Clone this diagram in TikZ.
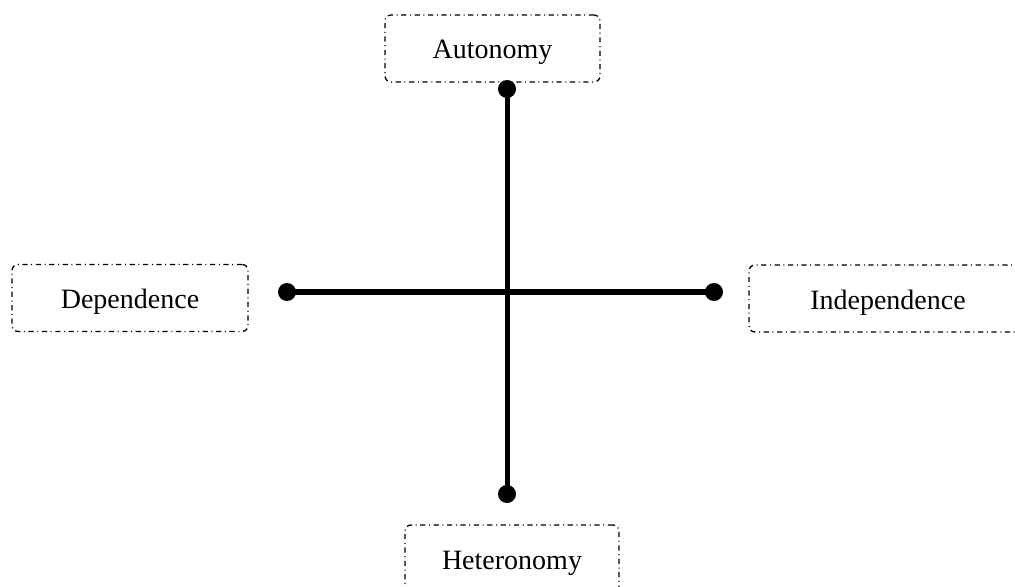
\documentclass[tikz,border=0pt]{standalone}
\usepackage{fontspec}
\setmainfont{Liberation Serif}
\usetikzlibrary{positioning}

\begin{document}
\begin{tikzpicture}[
        x=0.5pt, y=-0.5pt,
        every node/.style={font=\fontsize{14}{17}\selectfont},
        pole/.style={draw, rectangle, rounded corners=3pt, line width=0.65pt,
            dash pattern=on 2.6pt off 1.8pt on 0.5pt off 1.8pt, minimum height=33.5pt,
            text height=13.5pt, text depth=3pt},
        knob/.style={circle, fill=black, inner sep=0pt, minimum size=9pt},
        axis/.style={line width=2.5pt}
    ]
        \useasboundingbox (0,0) rectangle (1015,587);
        \clip (0,0) rectangle (1015,587);

        \node[knob] (top) at (507,89) {};
        \node[knob] (bottom) at (507,494) {};
        \node[knob] (left) at (287,292) {};
        \node[knob] (right) at (714,292) {};

        \draw[axis] (top.center) -- (bottom.center);
        \draw[axis] (left.center) -- (right.center);

        \node[pole, minimum width=107.5pt] (auto) at (492.5,48.5) {Autonomy};
        \node[pole, minimum width=118pt] (dep) at (130,298) {Dependence};
        \node[pole, minimum width=139pt] (indep) at (888,298.5) {Independence};
        \node[pole, minimum width=107pt] (hetero) at (512,558.5) {Heteronomy};
    \end{tikzpicture}
\end{document}
